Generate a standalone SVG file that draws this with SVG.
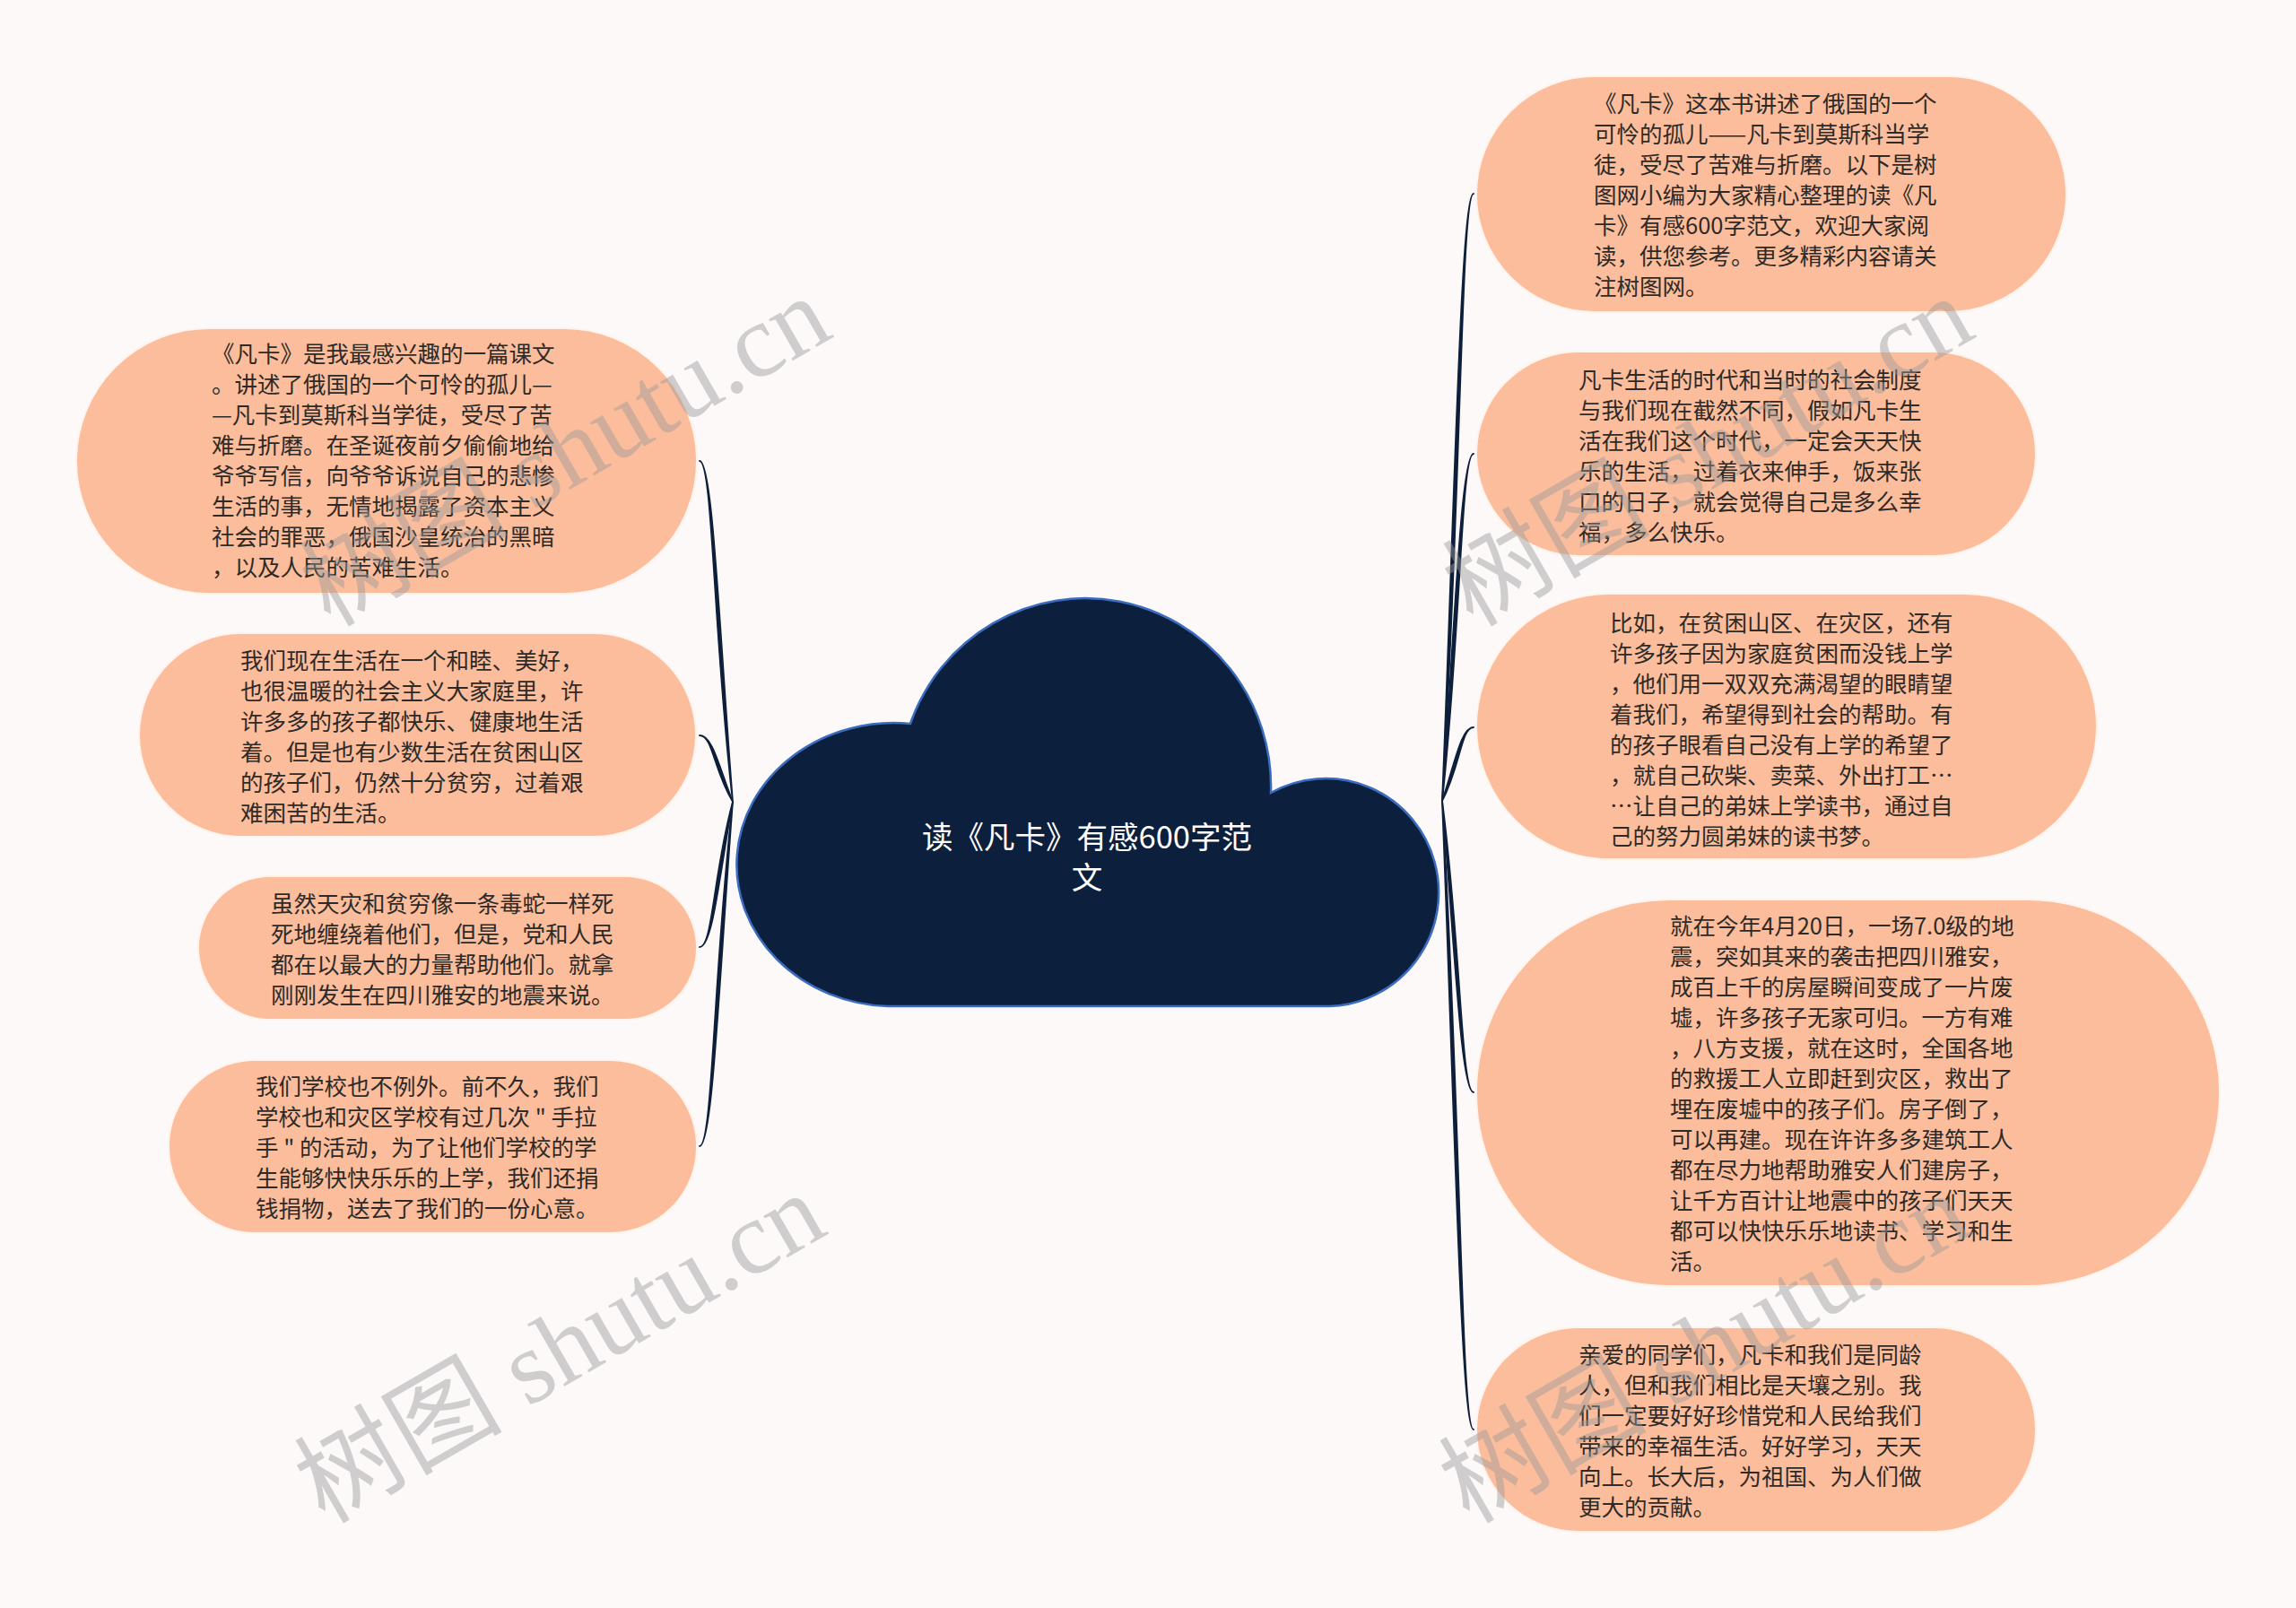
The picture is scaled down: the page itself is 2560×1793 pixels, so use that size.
<svg xmlns="http://www.w3.org/2000/svg" width="2560" height="1793" viewBox="0 0 2560 1793">
<style>
.bg{fill:#fcf9f8}
.node rect{fill:#fbbd9b;stroke:#fff3ec;stroke-width:2}
.node text{font-family:"Noto Sans CJK SC","Noto Sans",sans-serif;font-size:25.5px;fill:#2e2a28}
.conn path{fill:#0e1f3b;stroke:#0e1f3b;stroke-width:1.8;stroke-linejoin:round}
.cloud path{fill:#0c1f3c;stroke:#3a6cc0;stroke-width:2.5}
.title{font-family:"Noto Sans CJK SC","Noto Sans",sans-serif;font-size:34.5px;fill:#ffffff;text-anchor:middle}
.wm{font-family:"Liberation Serif","Noto Sans CJK SC",serif;font-size:116px;fill:#9a9a9a;opacity:.45}
</style>
<rect class="bg" x="0" y="0" width="2560" height="1793"/>

<g id="connectors" class="conn">
<path d="M817,894 C802,703.7 794.8,514 780,514 C794.8,514 795,704.3 817,894Z"/>
<path d="M817,894 C801.6,855.4 794.8,820 780,820 C794.8,820 795.4,858.6 817,894Z"/>
<path d="M817,894 C795.1,974.2 794.8,1056 780,1056 C794.8,1056 801.9,975.8 817,894Z"/>
<path d="M817,894 C795,1085.7 794.8,1278 780,1278 C794.8,1278 802,1086.3 817,894Z"/>
<path d="M1608,893 C1629,554.7 1629,216 1643,216 C1629,216 1622,554.3 1608,893Z"/>
<path d="M1608,893 C1629,699.8 1629,506 1643,506 C1629,506 1622,699.2 1608,893Z"/>
<path d="M1608,893 C1628.7,853.4 1629,811 1643,811 C1629,811 1622.3,850.6 1608,893Z"/>
<path d="M1608,893 C1622,1055.9 1629,1218 1643,1218 C1629,1218 1629,1055.1 1608,893Z"/>
<path d="M1608,893 C1622,1243.9 1629,1594 1643,1594 C1629,1594 1629,1243.1 1608,893Z"/>
</g>

<g id="root" class="cloud">
<path d="M990,1122 A175,158 0 1 1 1015,807 A207,210 0 0 1 1417,884 A126,127 0 1 1 1482,1122 Z"/>
<text class="title"><tspan x="1212" y="946">读《凡卡》有感600字范</tspan><tspan x="1212" y="991">文</tspan></text>
</g>

<g id="node-l1" class="node">
<rect x="85" y="366" width="692" height="296" rx="148"/>
<text><tspan x="236" y="404">《凡卡》是我最感兴趣的一篇课文</tspan><tspan x="236" y="438">。讲述了俄国的一个可怜的孤儿—</tspan><tspan x="236" y="472">—凡卡到莫斯科当学徒，受尽了苦</tspan><tspan x="236" y="506">难与折磨。在圣诞夜前夕偷偷地给</tspan><tspan x="236" y="540">爷爷写信，向爷爷诉说自己的悲惨</tspan><tspan x="236" y="574">生活的事，无情地揭露了资本主义</tspan><tspan x="236" y="608">社会的罪恶，俄国沙皇统治的黑暗</tspan><tspan x="236" y="642">，以及人民的苦难生活。</tspan></text>
</g>

<g id="node-l2" class="node">
<rect x="155" y="706" width="621" height="227" rx="113.5"/>
<text><tspan x="268" y="746">我们现在生活在一个和睦、美好，</tspan><tspan x="268" y="780">也很温暖的社会主义大家庭里，许</tspan><tspan x="268" y="814">许多多的孩子都快乐、健康地生活</tspan><tspan x="268" y="848">着。但是也有少数生活在贫困山区</tspan><tspan x="268" y="882">的孩子们，仍然十分贫穷，过着艰</tspan><tspan x="268" y="916">难困苦的生活。</tspan></text>
</g>

<g id="node-l3" class="node">
<rect x="221" y="977" width="556" height="160" rx="80"/>
<text><tspan x="302" y="1017">虽然天灾和贫穷像一条毒蛇一样死</tspan><tspan x="302" y="1051">死地缠绕着他们，但是，党和人民</tspan><tspan x="302" y="1085">都在以最大的力量帮助他们。就拿</tspan><tspan x="302" y="1119">刚刚发生在四川雅安的地震来说。</tspan></text>
</g>

<g id="node-l4" class="node">
<rect x="188" y="1182" width="589" height="193" rx="96.5"/>
<text><tspan x="285" y="1221">我们学校也不例外。前不久，我们</tspan><tspan x="285" y="1255">学校也和灾区学校有过几次 " 手拉</tspan><tspan x="285" y="1289">手 " 的活动，为了让他们学校的学</tspan><tspan x="285" y="1323">生能够快快乐乐的上学，我们还捐</tspan><tspan x="285" y="1357">钱捐物，送去了我们的一份心意。</tspan></text>
</g>

<g id="node-r1" class="node">
<rect x="1646" y="85" width="658" height="263" rx="131.5"/>
<text><tspan x="1777" y="125">《凡卡》这本书讲述了俄国的一个</tspan><tspan x="1777" y="159">可怜的孤儿——凡卡到莫斯科当学</tspan><tspan x="1777" y="193">徒，受尽了苦难与折磨。以下是树</tspan><tspan x="1777" y="227">图网小编为大家精心整理的读《凡</tspan><tspan x="1777" y="261">卡》有感600字范文，欢迎大家阅</tspan><tspan x="1777" y="295">读，供您参考。更多精彩内容请关</tspan><tspan x="1777" y="329">注树图网。</tspan></text>
</g>

<g id="node-r2" class="node">
<rect x="1646" y="392" width="624" height="228" rx="114"/>
<text><tspan x="1760" y="433">凡卡生活的时代和当时的社会制度</tspan><tspan x="1760" y="467">与我们现在截然不同，假如凡卡生</tspan><tspan x="1760" y="501">活在我们这个时代，一定会天天快</tspan><tspan x="1760" y="535">乐的生活，过着衣来伸手，饭来张</tspan><tspan x="1760" y="569">口的日子，就会觉得自己是多么幸</tspan><tspan x="1760" y="603">福，多么快乐。</tspan></text>
</g>

<g id="node-r3" class="node">
<rect x="1646" y="662" width="692" height="296" rx="148"/>
<text><tspan x="1795" y="704">比如，在贫困山区、在灾区，还有</tspan><tspan x="1795" y="738">许多孩子因为家庭贫困而没钱上学</tspan><tspan x="1795" y="772">，他们用一双双充满渴望的眼睛望</tspan><tspan x="1795" y="806">着我们，希望得到社会的帮助。有</tspan><tspan x="1795" y="840">的孩子眼看自己没有上学的希望了</tspan><tspan x="1795" y="874">，就自己砍柴、卖菜、外出打工…</tspan><tspan x="1795" y="908">…让自己的弟妹上学读书，通过自</tspan><tspan x="1795" y="942">己的努力圆弟妹的读书梦。</tspan></text>
</g>

<g id="node-r4" class="node">
<rect x="1646" y="1003" width="829" height="431" rx="215.5"/>
<text><tspan x="1862" y="1042">就在今年4月20日，一场7.0级的地</tspan><tspan x="1862" y="1076">震，突如其来的袭击把四川雅安，</tspan><tspan x="1862" y="1110">成百上千的房屋瞬间变成了一片废</tspan><tspan x="1862" y="1144">墟，许多孩子无家可归。一方有难</tspan><tspan x="1862" y="1178">，八方支援，就在这时，全国各地</tspan><tspan x="1862" y="1212">的救援工人立即赶到灾区，救出了</tspan><tspan x="1862" y="1246">埋在废墟中的孩子们。房子倒了，</tspan><tspan x="1862" y="1280">可以再建。现在许许多多建筑工人</tspan><tspan x="1862" y="1314">都在尽力地帮助雅安人们建房子，</tspan><tspan x="1862" y="1348">让千方百计让地震中的孩子们天天</tspan><tspan x="1862" y="1382">都可以快快乐乐地读书、学习和生</tspan><tspan x="1862" y="1416">活。</tspan></text>
</g>

<g id="node-r5" class="node">
<rect x="1646" y="1480" width="624" height="228" rx="114"/>
<text><tspan x="1760" y="1520">亲爱的同学们，凡卡和我们是同龄</tspan><tspan x="1760" y="1554">人，但和我们相比是天壤之别。我</tspan><tspan x="1760" y="1588">们一定要好好珍惜党和人民给我们</tspan><tspan x="1760" y="1622">带来的幸福生活。好好学习，天天</tspan><tspan x="1760" y="1656">向上。长大后，为祖国、为人们做</tspan><tspan x="1760" y="1690">更大的贡献。</tspan></text>
</g>

<g id="watermarks">
<text class="wm" transform="translate(368,700) rotate(-30)">树图 shutu.cn</text>
<text class="wm" transform="translate(362,1700) rotate(-30)">树图 shutu.cn</text>
<text class="wm" transform="translate(1642,700) rotate(-30)">树图 shutu.cn</text>
<text class="wm" transform="translate(1638,1700) rotate(-30)">树图 shutu.cn</text>
</g>
</svg>
